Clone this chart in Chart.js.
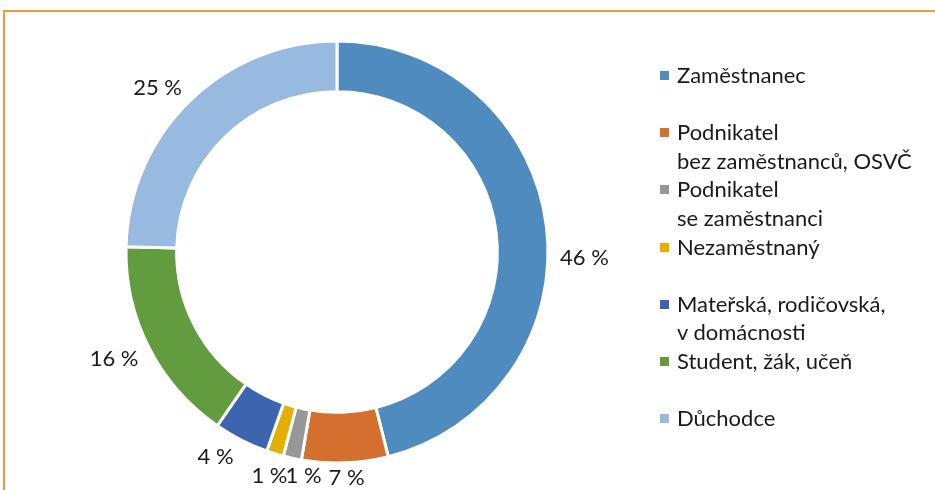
<!DOCTYPE html>
<html>
<head>
<meta charset="utf-8">
<script src="https://cdn.jsdelivr.net/npm/chart.js@4.4.1/dist/chart.umd.min.js"></script>
<style>
  html, body { margin: 0; padding: 0; background: #fff; overflow: hidden; }
  #frame {
    position: absolute; left: 3px; top: 10px; width: 1000px; height: 600px;
    border-top: 2px solid #EE9B38; border-left: 2px solid #EE9B38;
  }
  #wrap { position: absolute; left: 0; top: 0; width: 935px; height: 490px; }
  #legend {
    position: absolute; left: 660px; top: 61px;
    font-family: Lato, sans-serif; font-size: 22px; color: #1a1a1a;
  }
  .item { position: relative; height: 57.2px; padding-left: 17px; line-height: 28.6px; white-space: nowrap; }
  .box { position: absolute; left: 0; top: 10px; width: 9px; height: 9px; }
</style>
</head>
<body>
<div id="frame"></div>
<div id="wrap"><canvas id="chart" width="935" height="490"></canvas></div>
<div id="legend"></div>
<script>
// kategorie (řádky legendy)
const categories = [
    ['Zaměstnanec'],
    ['Podnikatel', 'bez zaměstnanců, OSVČ'],
    ['Podnikatel', 'se zaměstnanci'],
    ['Nezaměstnaný'],
    ['Mateřská, rodičovská,', 'v domácnosti'],
    ['Student, žák, učeň'],
    ['Důchodce']
];
// podíly v %
const shares = [46.1, 6.6, 1.4, 1.3, 4.2, 15.8, 24.6];
// popisky dat
const shareLabels = ['46 %', '7 %', '1 %', '1 %', '4 %', '16 %', '25 %'];
const colors = ['#4F8BBE', '#D46F2D', '#979797', '#E6AD03', '#3D64AE', '#629C3F', '#99BAE0'];

// ruční posun popisků (jako v Excelu)
const labelNudge = [[7, 36], [1, 0], [15, 0], [0, 4], [-16, -2], [-7, -3], [-12, 8]];

const FONT = '22px Lato, sans-serif';

// legenda
const legendEl = document.getElementById('legend');
categories.forEach((lines, i) => {
    const item = document.createElement('div');
    item.className = 'item';
    item.innerHTML = `<span class="box" style="background:${colors[i]}"></span>${lines.join('<br>')}`;
    legendEl.appendChild(item);
});

const outsideLabels = {
    id: 'outsideLabels',
    afterDatasetsDraw(chart) {
        const ctx = chart.ctx;
        const meta = chart.getDatasetMeta(0);
        ctx.save();
        ctx.font = FONT;
        ctx.fillStyle = '#1a1a1a';
        ctx.textAlign = 'center';
        ctx.textBaseline = 'middle';
        meta.data.forEach((arc, i) => {
            const { x, y, startAngle, endAngle, outerRadius } = arc.getProps(['x', 'y', 'startAngle', 'endAngle', 'outerRadius'], true);
            const mid = (startAngle + endAngle) / 2;
            const dx = Math.cos(mid), dy = Math.sin(mid);
            const w = ctx.measureText(shareLabels[i]).width;
            const r = outerRadius + 6 + (w / 2) * Math.abs(dx) + 8 * Math.abs(dy);
            ctx.fillText(shareLabels[i], x + r * dx + labelNudge[i][0], y + r * dy + labelNudge[i][1]);
        });
        ctx.restore();
    }
};

new Chart(document.getElementById('chart'), {
    type: 'doughnut',
    data: {
        labels: categories.map(l => l.join(' ')),
        datasets: [{
            data: shares,
            backgroundColor: colors,
            borderColor: '#ffffff',
            borderWidth: 3
        }]
    },
    options: {
        responsive: false,
        animation: false,
        cutout: '76%',
        radius: 211,
        layout: { padding: { left: 0, right: 261, top: 14, bottom: 0 } },
        plugins: {
            legend: { display: false },
            tooltip: { enabled: false }
        }
    },
    plugins: [outsideLabels]
});
</script>
</body>
</html>
